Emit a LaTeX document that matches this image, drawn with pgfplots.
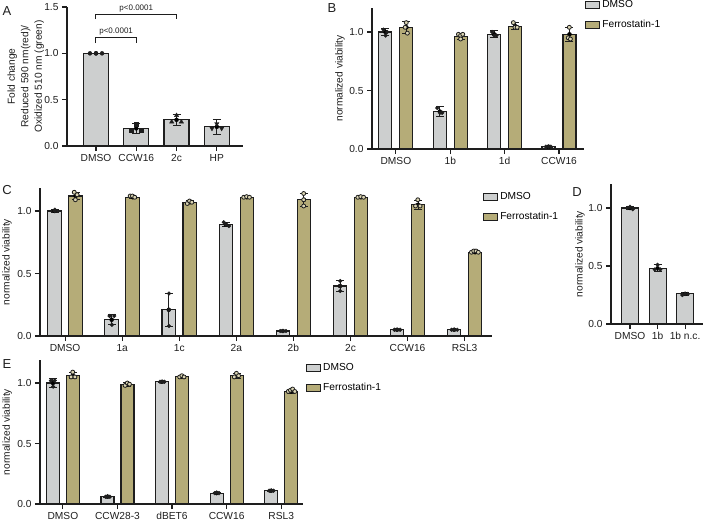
\documentclass[border=0pt]{standalone}
\usepackage{pgfplots}
\pgfplotsset{compat=1.18}
\usepackage{fontspec}
\setmainfont{Liberation Sans}

\definecolor{barGray}{HTML}{CDCFCF}
\definecolor{barOlive}{HTML}{B5AC78}
\definecolor{ptOlive}{HTML}{DCD6B4}
\definecolor{inkc}{HTML}{1E1E1E}

\newcommand{\tfont}{\fontsize{10.2bp}{12bp}\selectfont}

\pgfplotsset{
  panel/.style={
    scale only axis,
    clip=false,
    axis x line*=bottom, axis y line*=left,
    axis line style={line width=1.1bp, color=inkc, -},
    every tick/.style={line width=1.1bp, color=inkc},
    tick align=outside,
    major tick length=5bp,
    ymin=0,
    tick label style={font=\tfont, color=inkc},
    /pgf/number format/assume math mode=true,
    yticklabel={\pgfmathprintnumber[fixed,fixed zerofill,precision=1]{\tick}},
    every axis y label/.style={rotate=90, anchor=center, font=\tfont, color=inkc},
    legend style={draw=none, fill=none, font=\tfont, inner sep=0pt, row sep=7bp},
    legend cell align=left,
  },
  % error bars drawn as their own mark-free series at the bar centres
  ebars/.style={
    only marks, mark=none, forget plot,
    error bars/y dir=both, error bars/y explicit,
    error bars/error bar style={line width=0.9bp, draw=inkc, solid},
    error bars/error mark options={rotate=90, mark size=4bp, line width=0.9bp, draw=inkc},
  },
  dmsobar/.style={ybar, fill=barGray, draw=inkc, line width=1.1bp,
    legend image code/.code={\draw[line width=1.1bp, draw=inkc, fill=barGray] (0bp,-3.5bp) rectangle (14bp,3.5bp);}},
  ferbar/.style={ybar, fill=barOlive, draw=inkc, line width=1.1bp,
    legend image code/.code={\draw[line width=1.1bp, draw=inkc, fill=barOlive] (0bp,-3.5bp) rectangle (14bp,3.5bp);}},
  dpts/.style={only marks, mark=*, mark size=1.9bp, mark options={fill=inkc, draw=inkc}, forget plot},
  fpts/.style={only marks, mark=*, mark size=2bp, mark options={fill=ptOlive, draw=inkc, line width=0.8bp}, forget plot},
}

\begin{document}
\begin{tikzpicture}
\useasboundingbox (0,0) rectangle (705bp,-522bp);

% panel letters
\node[font=\fontsize{13bp}{15bp}\selectfont, color=inkc] at (7bp,-11bp) {A};
\node[font=\fontsize{13bp}{15bp}\selectfont, color=inkc] at (332bp,-8bp) {B};
\node[font=\fontsize{13bp}{15bp}\selectfont, color=inkc] at (7bp,-190bp) {C};
\node[font=\fontsize{13bp}{15bp}\selectfont, color=inkc] at (577bp,-192bp) {D};
\node[font=\fontsize{13bp}{15bp}\selectfont, color=inkc] at (7bp,-364bp) {E};

% ---------------- A ----------------
\begin{axis}[panel, at={(67bp,-146bp)}, anchor=south west,
  width=176bp, height=139bp, xmin=-0.72, xmax=3.65, ymin=0, ymax=1.5,
  ytick={0,0.5,1,1.5}, xtick={0,1,2,3}, xticklabels={DMSO,CCW16,2c,HP},
  ylabel={Fold change\\Reduced 590 nm(red)/\\Oxidized 510 nm (green)},
  ylabel style={at={(axis description cs:-0.235,0.5)}, align=center,
    font=\fontsize{10.2bp}{13.5bp}\selectfont},
]
\addplot[dmsobar, bar width=25bp] coordinates {(0,1.0) (1,0.19) (2,0.283) (3,0.207)};
\addplot[ebars] coordinates {(0,1.0) +- (0,0.0) (1,0.19) +- (0,0.05) (2,0.283) +- (0,0.06) (3,0.207) +- (0,0.08)};
\addplot[only marks, mark=*, mark size=2bp, inkc] coordinates {(-0.15,1.0) (0,1.0) (0.15,1.0)};
\addplot[only marks, mark=square*, mark size=2bp, inkc] coordinates {(0.88,0.17) (1.0,0.23) (1.12,0.17)};
\addplot[only marks, mark=triangle*, mark size=2.5bp, inkc] coordinates {(1.88,0.26) (2.0,0.33) (2.12,0.26)};
\addplot[only marks, mark=triangle*, mark options={rotate=180}, mark size=2.5bp, inkc] coordinates {(2.88,0.19) (3.0,0.24) (3.12,0.19)};
\draw[line width=1bp, inkc] (axis cs:0,1.11) |- (axis cs:1,1.176) -- (axis cs:1,1.11);
\node[font=\fontsize{8bp}{9bp}\selectfont, color=inkc, anchor=south, inner sep=1.5bp] at (axis cs:0.5,1.176) {p<0.0001};
\draw[line width=1bp, inkc] (axis cs:0,1.37) |- (axis cs:2,1.424) -- (axis cs:2,1.37);
\node[font=\fontsize{8bp}{9bp}\selectfont, color=inkc, anchor=south, inner sep=1.5bp] at (axis cs:1,1.424) {p<0.0001};
\end{axis}

% ---------------- B ----------------
\begin{axis}[panel, at={(372bp,-149bp)}, anchor=south west,
  width=212bp, height=141bp, xmin=-0.44, xmax=3.46, ymax=1.205,
  ytick={0,0.5,1}, xtick={0,1,2,3}, xticklabels={DMSO,1b,1d,CCW16},
  ylabel={normalized viability},
  ylabel style={at={(axis description cs:-0.151,0.5)}},
  legend style={at={(axis description cs:1.005,0.95)}, anchor=west},
]
\addplot[dmsobar, bar width=13bp, bar shift=-10.5bp] coordinates {(0,1.0) (1,0.32) (2,0.98) (3,0.02)};
\addlegendentry{DMSO}
\addplot[ferbar, bar width=13bp, bar shift=10.5bp] coordinates {(0,1.04) (1,0.96) (2,1.05) (3,0.98)};
\addlegendentry{Ferrostatin-1}
\addplot[ebars] coordinates {
  (-0.193,1.0) +- (0,0.03) (0.807,0.32) +- (0,0.04) (1.807,0.98) +- (0,0.03) (2.807,0.02) +- (0,0.005)
  (0.193,1.04) +- (0,0.05) (1.193,0.96) +- (0,0.02) (2.193,1.05) +- (0,0.03) (3.193,0.98) +- (0,0.06)};
\addplot[dpts] coordinates {(-0.23,1.02) (-0.16,1.0) (-0.19,0.97)
  (0.76,0.35) (0.81,0.31) (0.85,0.31)
  (1.77,1.0) (1.81,0.97) (1.85,0.97)
  (2.76,0.02) (2.81,0.02) (2.85,0.02)};
\addplot[fpts] coordinates {(0.19,1.08) (0.17,1.04) (0.21,0.99)
  (1.15,0.98) (1.19,0.97) (1.23,0.98) (1.19,0.94)
  (2.16,1.08) (2.19,1.04) (2.23,1.04)
  (3.19,1.04) (3.17,0.95) (3.21,0.94)};
\end{axis}

% ---------------- C ----------------
\begin{axis}[panel, at={(40bp,-336bp)}, anchor=south west,
  width=452bp, height=148bp, xmin=-0.44, xmax=7.48, ymax=1.184,
  ytick={0,0.5,1}, xtick={0,...,7}, xticklabels={DMSO,1a,1c,2a,2b,2c,CCW16,RSL3},
  ylabel={normalized viability},
  ylabel style={at={(axis description cs:-0.073,0.5)}},
  legend style={at={(axis description cs:0.98,0.872)}, anchor=west},
]
\addplot[dmsobar, bar width=13.5bp, bar shift=-10.5bp] coordinates {
  (0,1.0) (1,0.13) (2,0.21) (3,0.89) (4,0.04) (5,0.40) (6,0.05) (7,0.05)};
\addlegendentry{DMSO}
\addplot[ferbar, bar width=13.5bp, bar shift=10.5bp] coordinates {
  (0,1.12) (1,1.11) (2,1.07) (3,1.11) (4,1.09) (5,1.11) (6,1.05) (7,0.67)};
\addlegendentry{Ferrostatin-1}
\addplot[ebars] coordinates {
  (-0.184,1.0) +- (0,0.01) (0.816,0.13) +- (0,0.04) (1.816,0.21) +- (0,0.13) (2.816,0.89) +- (0,0.015)
  (3.816,0.04) +- (0,0.004) (4.816,0.40) +- (0,0.045) (5.816,0.05) +- (0,0.004) (6.816,0.05) +- (0,0.004)
  (0.184,1.12) +- (0,0.03) (1.184,1.11) +- (0,0.01) (2.184,1.07) +- (0,0.012) (3.184,1.11) +- (0,0.006)
  (4.184,1.09) +- (0,0.05) (5.184,1.11) +- (0,0.008) (6.184,1.05) +- (0,0.035) (7.184,0.67) +- (0,0.008)};
\addplot[dpts] coordinates {(-0.18,1.01) (-0.18,1.0)
  (0.78,0.16) (0.86,0.16) (0.82,0.09)
  (1.82,0.34) (1.82,0.21) (1.82,0.08)
  (2.78,0.91) (2.82,0.89) (2.87,0.88)
  (3.77,0.04) (3.82,0.04) (3.87,0.04)
  (4.82,0.44) (4.82,0.40) (4.82,0.36)
  (5.77,0.05) (5.82,0.05) (5.87,0.05)
  (6.77,0.05) (6.82,0.05) (6.87,0.05)};
\addplot[fpts] coordinates {(0.16,1.15) (0.21,1.13) (0.18,1.09)
  (1.14,1.12) (1.18,1.12) (1.22,1.11)
  (2.14,1.06) (2.18,1.08) (2.22,1.07)
  (3.13,1.11) (3.18,1.115) (3.23,1.11)
  (4.18,1.14) (4.18,1.09) (4.18,1.04)
  (5.13,1.11) (5.18,1.115) (5.23,1.11)
  (6.14,1.04) (6.18,1.09) (6.22,1.04)
  (7.12,0.67) (7.16,0.68) (7.20,0.68) (7.24,0.67)};
\end{axis}

% ---------------- D ----------------
\begin{axis}[panel, at={(611bp,-324bp)}, anchor=south west,
  width=92bp, height=140bp, xmin=-0.69, xmax=2.65, ymax=1.207,
  ytick={0,0.5,1}, xtick={0,1,2}, xticklabels={DMSO,1b,1b n.c.},
  ylabel={normalized viability},
  ylabel style={at={(axis description cs:-0.337,0.5)}},
]
\addplot[dmsobar, bar width=17bp] coordinates {(0,1.0) (1,0.48) (2,0.26)};
\addplot[ebars] coordinates {(0,1.0) +- (0,0.01) (1,0.48) +- (0,0.03) (2,0.26) +- (0,0.01)};
\addplot[dpts] coordinates {(-0.1,1.0) (0,1.01) (0.1,0.99)
  (0.9,0.47) (1.0,0.51) (1.1,0.47)
  (1.9,0.25) (2.0,0.26) (2.1,0.26)};
\end{axis}

% ---------------- E ----------------
\begin{axis}[panel, at={(40bp,-504bp)}, anchor=south west,
  width=263bp, height=144bp, xmin=-0.42, xmax=4.40, ymax=1.19,
  ytick={0,0.5,1}, xtick={0,...,4}, xticklabels={DMSO,CCW28-3,dBET6,CCW16,RSL3},
  ylabel={normalized viability},
  ylabel style={at={(axis description cs:-0.125,0.5)}},
  legend style={at={(axis description cs:1.011,0.875)}, anchor=west},
]
\addplot[dmsobar, bar width=13bp, bar shift=-10bp] coordinates {(0,1.0) (1,0.06) (2,1.01) (3,0.09) (4,0.11)};
\addlegendentry{DMSO}
\addplot[ferbar, bar width=13bp, bar shift=10bp] coordinates {(0,1.06) (1,0.99) (2,1.05) (3,1.06) (4,0.93)};
\addlegendentry{Ferrostatin-1}
\addplot[ebars] coordinates {
  (-0.183,1.0) +- (0,0.035) (0.817,0.06) +- (0,0.004) (1.817,1.01) +- (0,0.003) (2.817,0.09) +- (0,0.004) (3.817,0.11) +- (0,0.003)
  (0.183,1.06) +- (0,0.025) (1.183,0.99) +- (0,0.015) (2.183,1.05) +- (0,0.01) (3.183,1.06) +- (0,0.02) (4.183,0.93) +- (0,0.015)};
\addplot[dpts] coordinates {(-0.22,1.02) (-0.15,1.02) (-0.18,0.97)
  (0.78,0.06) (0.82,0.065) (0.86,0.06)
  (1.78,1.01) (1.82,1.01) (1.86,1.01)
  (2.78,0.09) (2.82,0.095) (2.86,0.09)
  (3.78,0.11) (3.82,0.11) (3.86,0.11)};
\addplot[fpts] coordinates {(0.15,1.05) (0.18,1.09) (0.22,1.05)
  (1.14,0.98) (1.18,1.0) (1.22,0.99)
  (2.14,1.05) (2.18,1.06) (2.22,1.05)
  (3.14,1.05) (3.18,1.08) (3.22,1.06)
  (4.13,0.93) (4.17,0.94) (4.21,0.95) (4.25,0.93)};
\end{axis}

\end{tikzpicture}
\end{document}
